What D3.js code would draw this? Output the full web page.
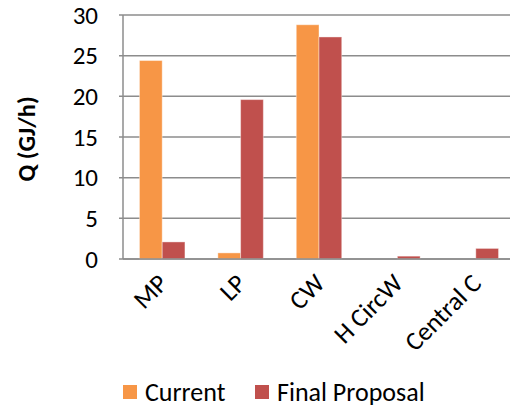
<!DOCTYPE html>
<html>
<head>
<meta charset="utf-8">
<script src="https://cdn.jsdelivr.net/npm/d3@7"></script>
<style>
	body { margin: 0; background: #fff; }
	svg { display: block; font-family: Carlito, "Open Sans", "Liberation Sans", sans-serif; }
</style>
</head>
<body>
<div id="chart"></div>
<script>
var categories = ['MP', 'LP', 'CW', 'H CircW', 'Central C'];
var seriesNames = ['Current', 'Final Proposal'];
var current = [24.4, 0.75, 28.8, 0, 0];
var finalProposal = [2.1, 19.6, 27.3, 0.35, 1.3];
var yTicks = [0, 5, 10, 15, 20, 25, 30];
var colors = ['#F79646', '#C0504D'];

var fullWidth = 510;
var fullHeight = 408;
var margin = { top: 15, right: -5, bottom: 149, left: 123 };
var width = fullWidth - margin.left - margin.right;
var height = fullHeight - margin.top - margin.bottom;

var svg = d3.select('#chart')
	.append('svg')
	.attr('width', fullWidth)
	.attr('height', fullHeight);

var x = d3.scaleBand().domain(categories).range([0, width]);
var xInner = d3.scaleBand().domain(seriesNames).range([x.bandwidth() * 0.21, x.bandwidth() * 0.79]);
var y = d3.scaleLinear().domain([0, 30]).range([height, 0]);

var chartArea = svg.append('g')
	.attr('transform', 'translate(' + margin.left + ',' + margin.top + ')');

// gridlines
chartArea.append('g')
	.selectAll('line')
	.data(yTicks)
	.join('line')
	.attr('x1', -4)
	.attr('x2', width)
	.attr('y1', function(d) { return y(d); })
	.attr('y2', function(d) { return y(d); })
	.attr('stroke', '#8c8c8c')
	.attr('stroke-width', 1.5);

// y axis line
chartArea.append('line')
	.attr('x1', 0).attr('x2', 0)
	.attr('y1', 0).attr('y2', height)
	.attr('stroke', '#8c8c8c')
	.attr('stroke-width', 1.5);

var rows = categories.map(function(c, i) {
	return { cat: c, values: [current[i], finalProposal[i]] };
});

var groups = chartArea.selectAll('.grp')
	.data(rows)
	.join('g')
	.attr('class', 'grp')
	.attr('transform', function(d) { return 'translate(' + x(d.cat) + ',0)'; });

groups.selectAll('rect')
	.data(function(d) { return d.values.map(function(v, j) { return { name: seriesNames[j], v: v, j: j }; }); })
	.join('rect')
	.attr('x', function(d) { return xInner(d.name); })
	.attr('width', xInner.bandwidth())
	.attr('y', function(d) { return y(d.v); })
	.attr('height', function(d) { return height - y(d.v); })
	.attr('fill', function(d) { return colors[d.j]; })
	.attr('stroke', function(d) { return d.v > 0 ? '#fff' : 'none'; })
	.attr('stroke-opacity', 0.4)
	.attr('stroke-width', 1);

// bottom axis line drawn over bars
chartArea.append('line')
	.attr('x1', 0).attr('x2', width)
	.attr('y1', height).attr('y2', height)
	.attr('stroke', '#8c8c8c')
	.attr('stroke-width', 1.5);

// y tick labels
chartArea.append('g')
	.selectAll('text')
	.data(yTicks)
	.join('text')
	.attr('x', -25)
	.attr('y', function(d) { return y(d); })
	.attr('dy', '0.35em')
	.attr('text-anchor', 'end')
	.attr('font-size', 25)
	.attr('fill', '#000')
	.text(function(d) { return d; });

// x tick labels
chartArea.append('g')
	.selectAll('text')
	.data(categories)
	.join('text')
	.attr('transform', function(d) {
		return 'translate(' + (x(d) + x.bandwidth() / 2 + 7) + ',' + (height + 26) + ') rotate(-45)';
	})
	.attr('text-anchor', 'end')
	.attr('font-size', 26)
	.attr('fill', '#000')
	.text(function(d) { return d; });

// y axis title
svg.append('text')
	.attr('transform', 'translate(35,' + 139 + ') rotate(-90)')
	.attr('text-anchor', 'middle')
	.attr('font-size', 24.5)
	.attr('font-weight', 'bold')
	.text('Q (GJ/h)');

// legend
var legend = svg.append('g').attr('transform', 'translate(123,385)');
var legendX = [0, 132];
seriesNames.forEach(function(name, i) {
	legend.append('rect')
		.attr('x', legendX[i]).attr('y', 0)
		.attr('width', 14).attr('height', 14)
		.attr('fill', colors[i]);
	legend.append('text')
		.attr('x', legendX[i] + 22).attr('y', 7)
		.attr('dy', '0.35em')
		.attr('font-size', 26)
		.text(name);
});
</script>
</body>
</html>
